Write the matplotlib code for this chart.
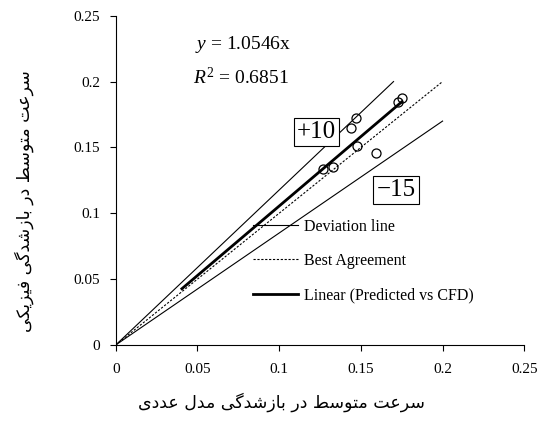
import matplotlib
matplotlib.use("Agg")
import matplotlib.pyplot as plt
import numpy as np

# data
pred = [0.1267, 0.1328, 0.1442, 0.1469, 0.1479, 0.1591, 0.1730, 0.1750]
cfd = [0.1333, 0.1351, 0.1646, 0.1722, 0.1508, 0.1457, 0.1848, 0.1874]
upper_x = [0, 0.17]
upper_y = [0, 0.20]
lower_x = [0, 0.20]
lower_y = [0, 0.17]
best_x = [0, 0.20]
best_y = [0, 0.20]
slope = 1.0546
r2 = 0.6851
fit_x = [0.0405, 0.175]
xticks = [0, 0.05, 0.1, 0.15, 0.2, 0.25]
yticks = [0, 0.05, 0.1, 0.15, 0.2, 0.25]
xlabel = "سرعت متوسط در بازشدگی مدل عددی"
ylabel = "سرعت متوسط در بازشدگی فیزیکی"

# tiny persian shaper (matplotlib has no complex text layout)
FORMS = {
    "ا": ("\uFE8D", "\uFE8E", None, None),
    "ب": ("\uFE8F", "\uFE90", "\uFE91", "\uFE92"),
    "ت": ("\uFE95", "\uFE96", "\uFE97", "\uFE98"),
    "د": ("\uFEA9", "\uFEAA", None, None),
    "ر": ("\uFEAD", "\uFEAE", None, None),
    "ز": ("\uFEAF", "\uFEB0", None, None),
    "س": ("\uFEB1", "\uFEB2", "\uFEB3", "\uFEB4"),
    "ش": ("\uFEB5", "\uFEB6", "\uFEB7", "\uFEB8"),
    "ط": ("\uFEC1", "\uFEC2", "\uFEC3", "\uFEC4"),
    "ع": ("\uFEC9", "\uFECA", "\uFECB", "\uFECC"),
    "ف": ("\uFED1", "\uFED2", "\uFED3", "\uFED4"),
    "ل": ("\uFEDD", "\uFEDE", "\uFEDF", "\uFEE0"),
    "م": ("\uFEE1", "\uFEE2", "\uFEE3", "\uFEE4"),
    "و": ("\uFEED", "\uFEEE", None, None),
    "ک": ("\uFB8E", "\uFB8F", "\uFB90", "\uFB91"),
    "گ": ("\uFB92", "\uFB93", "\uFB94", "\uFB95"),
    "ی": ("\uFBFC", "\uFBFD", "\uFBFE", "\uFBFF"),
}


def shape(s):
    out = []
    for i, c in enumerate(s):
        if c not in FORMS:
            out.append(c)
            continue
        prev = s[i - 1] if i > 0 else ""
        nxt = s[i + 1] if i + 1 < len(s) else ""
        jp = prev in FORMS and FORMS[prev][2] is not None
        jn = FORMS[c][2] is not None and nxt in FORMS
        f = FORMS[c]
        if jp and jn:
            out.append(f[3])
        elif jp:
            out.append(f[1])
        elif jn:
            out.append(f[2])
        else:
            out.append(f[0])
    return "".join(out)[::-1]


plt.rcParams["font.family"] = ["Liberation Serif", "DejaVu Sans"]
plt.rcParams["mathtext.fontset"] = "custom"
plt.rcParams["mathtext.rm"] = "Liberation Serif"
plt.rcParams["mathtext.it"] = "Liberation Serif:italic"

fig = plt.figure(figsize=(5.41, 4.30), dpi=100)
ax = fig.add_axes([0.2139, 0.1977, 0.7552, 0.7658])

dev, = ax.plot(upper_x, upper_y, color="black", lw=0.8)
ax.plot(lower_x, lower_y, color="black", lw=0.8)
best, = ax.plot(best_x, best_y, color="black", lw=0.8, dashes=(2, 1.5))
fx = np.array(fit_x)
lin, = ax.plot(fx, slope * fx, color="black", lw=2)
ax.plot(pred, cfd, "o", mfc="none", mec="black", ms=6.5, mew=0.9)

ax.set_xlim(0, 0.25)
ax.set_ylim(0, 0.25)
ax.set_xticks(xticks)
ax.set_yticks(yticks)
ax.set_xticklabels([f"{v:g}" for v in xticks])
ax.set_yticklabels([f"{v:g}" for v in yticks])
ax.tick_params(direction="out", length=4, width=0.8, labelsize=11)
ax.tick_params(axis="x", pad=9)
ax.tick_params(axis="y", pad=7)
for s in ["top", "right"]:
    ax.spines[s].set_visible(False)
for s in ["left", "bottom"]:
    ax.spines[s].set_linewidth(0.8)

ax.text(0.0485, 0.228, "$y$ = %.4fx" % slope, fontsize=14, va="center")
ax.text(0.0475, 0.203, "$R^2$ = %.4f" % r2, fontsize=14, va="center")

box = dict(boxstyle="square,pad=0.12", fc="white", ec="black", lw=0.8)
ax.text(0.1229, 0.1614, "+10", fontsize=18, ha="center", va="center", bbox=box)
ax.text(0.1715, 0.1174, "\u221215", fontsize=18, ha="center", va="center", bbox=box)

ax.legend([dev, best, lin], ["Deviation line", "Best Agreement", "Linear (Predicted vs CFD)"],
          loc="center left", bbox_to_anchor=(0.336, 0.255), frameon=False,
          fontsize=11.5, borderpad=0, handlelength=2.8, handletextpad=0.37,
          labelspacing=1.15, borderaxespad=0)

fig.text(0.52, 0.065, shape(xlabel), family="DejaVu Sans", fontsize=12.5,
         ha="center", va="center")
fig.text(0.045, 0.533, shape(ylabel), family="DejaVu Sans", fontsize=12.5,
         ha="center", va="center", rotation=90)

fig.savefig("out.png", dpi=100)
